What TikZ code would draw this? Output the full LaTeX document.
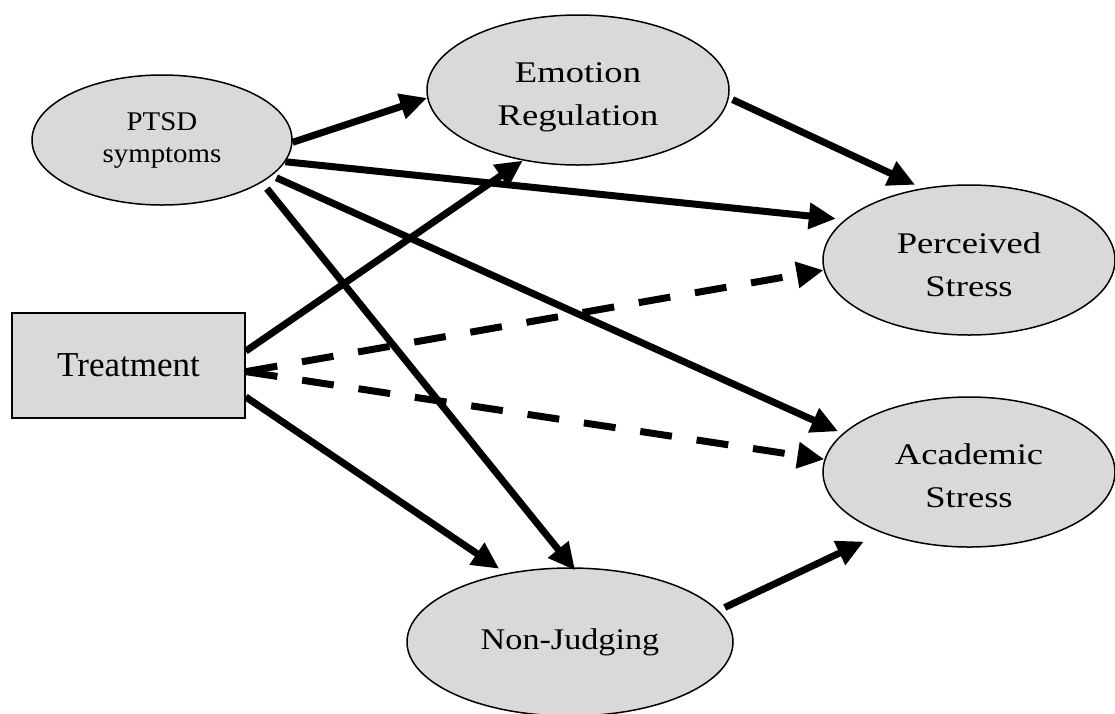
\documentclass[tikz,border=0pt]{standalone}
\usepackage{fontspec}
\setmainfont{Liberation Serif}
\newfontfamily\fA[FakeStretch=1.22]{Liberation Serif}
\newfontfamily\fB[FakeStretch=1.14]{Liberation Serif}
\newfontfamily\fC[FakeStretch=1.07]{Liberation Serif}
\usetikzlibrary{shapes.geometric,arrows.meta}
\definecolor{boxgray}{HTML}{D9D9D9}
\begin{document}
\begin{tikzpicture}[x=1pt,y=-1pt,
  var/.style={ellipse,draw=black,line width=1.5pt,fill=boxgray,inner sep=0pt,align=center},
  obs/.style={rectangle,draw=black,line width=1.5pt,fill=boxgray,inner sep=0pt,align=center},
  bigtxt/.style={font=\fA\fontsize{30}{43}\selectfont},
  path/.style={line width=7pt,-{Triangle[length=27pt,width=25pt]}},
  npath/.style={path,dash pattern=on 32pt off 25pt}]
\useasboundingbox (0,0) rectangle (1115,713);
\node[var,minimum width=260pt,minimum height=130pt,font=\fC\fontsize{27}{32}\selectfont] (ptsd) at (162,140)
  {PTSD\\symptoms};
\node[var,bigtxt,minimum width=302pt,minimum height=150pt] (er) at (578,90)
  {\rule{0pt}{34pt}Emotion\\Regulation};
\node[var,bigtxt,minimum width=292pt,minimum height=150pt] (ps) at (969,260)
  {\rule{0pt}{30pt}Perceived\\Stress};
\node[var,bigtxt,minimum width=292pt,minimum height=150pt] (as) at (969,472)
  {\rule{0pt}{29pt}Academic\\Stress};
\node[var,minimum width=326pt,minimum height=148pt,font=\fB\fontsize{30}{43}\selectfont] (nj) at (570,642)
  {Non-Judging};
\node[obs,minimum width=233pt,minimum height=105pt,font=\fontsize{35}{42}\selectfont] (tr) at (128.5,365.5)
  {Treatment};
% paths
\draw[path] (ptsd.-1) -- (er.183);
\draw[path,shorten >=9pt] (ptsd.-10.3) -- (ps.162);
\draw[path,shorten <=5pt,shorten >=5pt] (ptsd.-18.1) -- (as.163.4);
\draw[path,shorten <=8pt,shorten >=-4pt] (ptsd.-23.5) -- (nj.88.3);
\draw[path] (tr.7.6) -- (er.232.5);
\draw[npath] (tr.-3.7) -- (ps.184.7);
\draw[npath] (tr.-3.7) -- (as.175.3);
\draw[path,shorten >=8pt] (tr.-15.1) -- (nj.133.4);
\draw[path,shorten <=4pt,shorten >=8pt] (er.-3) -- (ps.123.2);
\draw[path,shorten <=7pt,shorten >=20pt] (nj.12.5) -- (as.215.6);
\end{tikzpicture}
\end{document}
